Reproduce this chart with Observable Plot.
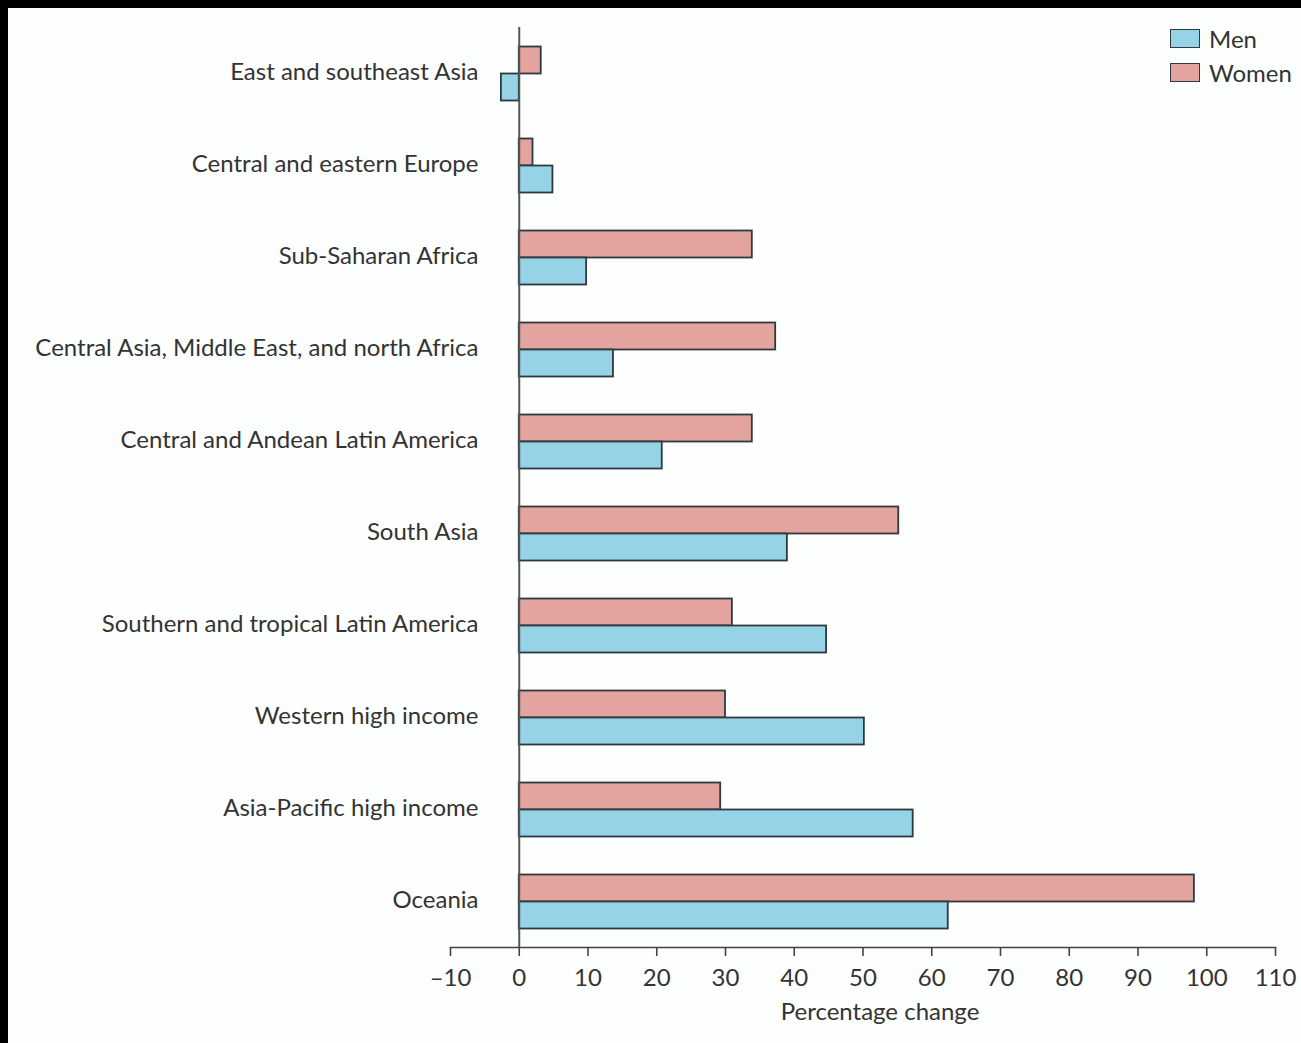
<!DOCTYPE html>
<html>
<head>
<meta charset="utf-8">
<script src="https://cdn.jsdelivr.net/npm/d3@7"></script>
<script src="https://cdn.jsdelivr.net/npm/@observablehq/plot@0.6"></script>
<style>
  html, body { margin: 0; padding: 0; background: #000; }
  #panel { position: absolute; left: 8px; top: 8px; width: 1293px; height: 1035px; background: #fdfefe; overflow: hidden; }
  #legend { position: absolute; left: 1162px; top: 13px; font-family: Lato, sans-serif; font-size: 24px; color: #333; }
  .item { display: flex; align-items: center; height: 34px; }
  .sw { width: 28px; height: 17px; border: 1.8px solid #2e3940; margin-right: 9px; }
</style>
</head>
<body>
<div id="panel"><div id="chart"></div>
<div id="legend"></div></div>
<script>
const regions = [
  "East and southeast Asia",
  "Central and eastern Europe",
  "Sub-Saharan Africa",
  "Central Asia, Middle East, and north Africa",
  "Central and Andean Latin America",
  "South Asia",
  "Southern and tropical Latin America",
  "Western high income",
  "Asia-Pacific high income",
  "Oceania"
];
const women = [3.2, 2.0, 33.9, 37.3, 33.9, 55.2, 31.0, 30.0, 29.3, 98.2];
const men   = [-2.6, 4.9, 9.8, 13.7, 20.8, 39.0, 44.7, 50.2, 57.3, 62.4];
const sexes = ["Men", "Women"];
const xTicks = [-10, 0, 10, 20, 30, 40, 50, 60, 70, 80, 90, 100, 110];
const xLabel = "Percentage change";
const colors = {Men: "#97d3e6", Women: "#e3a39e"};

const data = regions.flatMap((r, i) => [
  {region: r, sex: "Women", value: women[i]},
  {region: r, sex: "Men", value: men[i]}
]);

const chart = Plot.plot({
  width: 1293,
  height: 1035,
  marginLeft: 442,
  marginRight: 26,
  marginTop: 16.5,
  marginBottom: 93.5,
  style: {fontFamily: "Lato, sans-serif", fontSize: "24px", color: "#333", background: "transparent"},
  x: {domain: [-10, 110]},
  y: {domain: ["Women", "Men"], paddingInner: 0, paddingOuter: 0.68, axis: null},
  fy: {domain: regions, padding: 0},
  color: {domain: sexes, range: [colors.Men, colors.Women]},
  marks: [
    Plot.barX(data, {x: "value", y: "sex", fy: "region", fill: "sex", stroke: "#2e3940", strokeWidth: 1.8}),
    Plot.ruleX([0], {stroke: "#555", strokeWidth: 2}),
    Plot.axisFy({anchor: "left", tickSize: 0, dx: 37, dy: -1, label: null, fill: "#333"}),
    Plot.axisX({anchor: "bottom", ticks: xTicks, tickSize: 9, tickPadding: 12, strokeWidth: 1.6, stroke: "#444",
      tickFormat: d => d < 0 ? "\u2013" + (-d) : String(d), label: null}),
    Plot.text([xLabel], {frameAnchor: "bottom", facetAnchor: "bottom", lineAnchor: "middle", dy: 65, dx: 17, fill: "#333"}),
    Plot.frame({anchor: "bottom", stroke: "#444", strokeWidth: 1.6, facetAnchor: "bottom"})
  ]
});
document.getElementById("chart").appendChild(chart);

const legend = document.getElementById("legend");
for (const s of sexes) {
  const item = document.createElement("div");
  item.className = "item";
  const sw = document.createElement("div");
  sw.className = "sw";
  sw.style.background = colors[s];
  const t = document.createElement("span");
  t.textContent = s;
  item.appendChild(sw);
  item.appendChild(t);
  legend.appendChild(item);
}
</script>
</body>
</html>
